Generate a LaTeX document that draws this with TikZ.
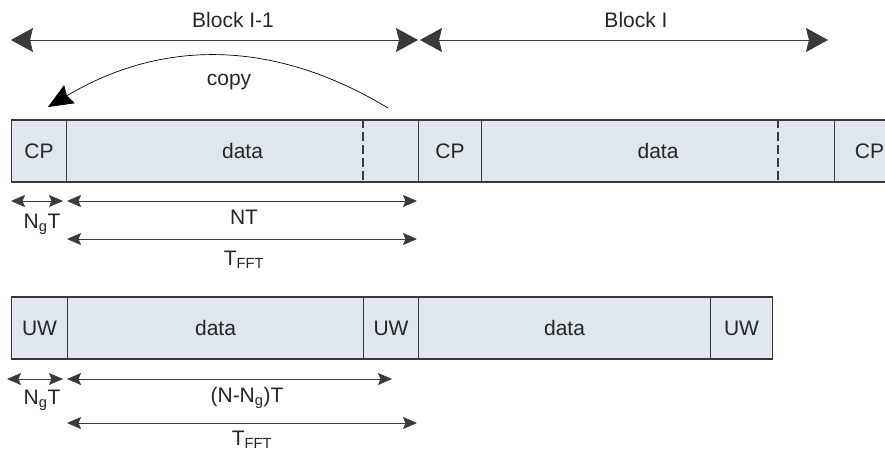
\documentclass[tikz,border=0pt]{standalone}
\usepackage{fontspec}
\setmainfont{Liberation Sans}
\usetikzlibrary{arrows.meta}
\definecolor{cellfill}{HTML}{DFE6ED}
\definecolor{linegray}{HTML}{3A3A3A}
\definecolor{textgray}{HTML}{262626}
\tikzset{>={Stealth[length=14pt,width=12pt,inset=2.5pt]}}

\begin{document}
\begin{tikzpicture}[x=1pt,y=-1pt,font=\fontsize{21}{24}\selectfont,text=textgray,
  cell/.style={draw=linegray,fill=cellfill,line width=1.1pt,minimum height=62pt,inner sep=0pt,anchor=west},
  dimline/.style={<->,line width=0.8pt,color=linegray},
  blockline/.style={{Stealth[length=22pt,width=24pt,inset=3pt]}-{Stealth[length=22pt,width=24pt,inset=3pt]},line width=0.8pt,color=linegray},
  cutline/.style={line width=1.1pt,color=linegray,dash pattern=on 9pt off 4pt}]

\useasboundingbox (0,0) rectangle (885,452);

% block lengths
\coordinate (bA) at (11,40);
\coordinate (bB) at (418,40);
\coordinate (bC) at (420,40);
\coordinate (bD) at (828,40);
\draw[blockline] (bA)--(bB);
\draw[blockline] (bC)--(bD);
\node (blockprev) at (233,20) {Block I-1};
\node (blockcur) at (636,20) {Block I};

% cyclic prefix frame
\node[cell,minimum width=55pt] (cpA) at (11,151) {CP};
\node[cell,minimum width=352pt] (dataA) at (66,151) {data};
\node[cell,minimum width=63pt] (cpB) at (418,151) {CP};
\node[cell,minimum width=353pt] (dataB) at (481,151) {data};
\node[cell,minimum width=70pt] (cpC) at (834,151) {CP};
\draw[cutline] (363,0 |- dataA.north)--(363,0 |- dataA.south);
\draw[cutline] (778,0 |- dataB.north)--(778,0 |- dataB.south);

% copy arrow
\coordinate (copyfrom) at (388,108);
\coordinate (copyto) at (48,107);
\draw[-{Stealth[length=25pt,width=21pt,inset=3pt]},line width=0.7pt] (copyfrom) to[bend right=31] (copyto);
\node (copylbl) at (229,82) {copy};

\coordinate (gA) at (11,201);
\coordinate (gB) at (63,201);
\coordinate (nA) at (67,201);
\coordinate (nB) at (417,201);
\coordinate (fA) at (67,239);
\coordinate (fB) at (417,239);
\draw[dimline] (gA)--(gB);
\draw[dimline] (nA)--(nB);
\draw[dimline] (fA)--(fB);
\node (guardlbl) at (42,224) {N\textsubscript{g}T};
\node (ntlbl) at (244,217) {NT};
\node (fftlbl) at (244,260) {T\textsubscript{FFT}};

% unique word frame
\node[cell,minimum width=56pt] (uwA) at (11,328) {UW};
\node[cell,minimum width=296pt] (dataC) at (67,328) {data};
\node[cell,minimum width=55pt] (uwB) at (363,328) {UW};
\node[cell,minimum width=292pt] (dataD) at (418,328) {data};
\node[cell,minimum width=62pt] (uwC) at (710,328) {UW};

\coordinate (hA) at (7,379);
\coordinate (hB) at (63,379);
\coordinate (mA) at (67,379);
\coordinate (mB) at (392,379);
\coordinate (kA) at (67,423);
\coordinate (kB) at (417,423);
\draw[dimline] (hA)--(hB);
\draw[dimline] (mA)--(mB);
\draw[dimline] (kA)--(kB);
\node (guardlbl2) at (42,400) {N\textsubscript{g}T};
\node (uwlbl) at (247,398) {(N-N\textsubscript{g})T};
\node (fftlbl2) at (252,440) {T\textsubscript{FFT}};

\end{tikzpicture}
\end{document}
